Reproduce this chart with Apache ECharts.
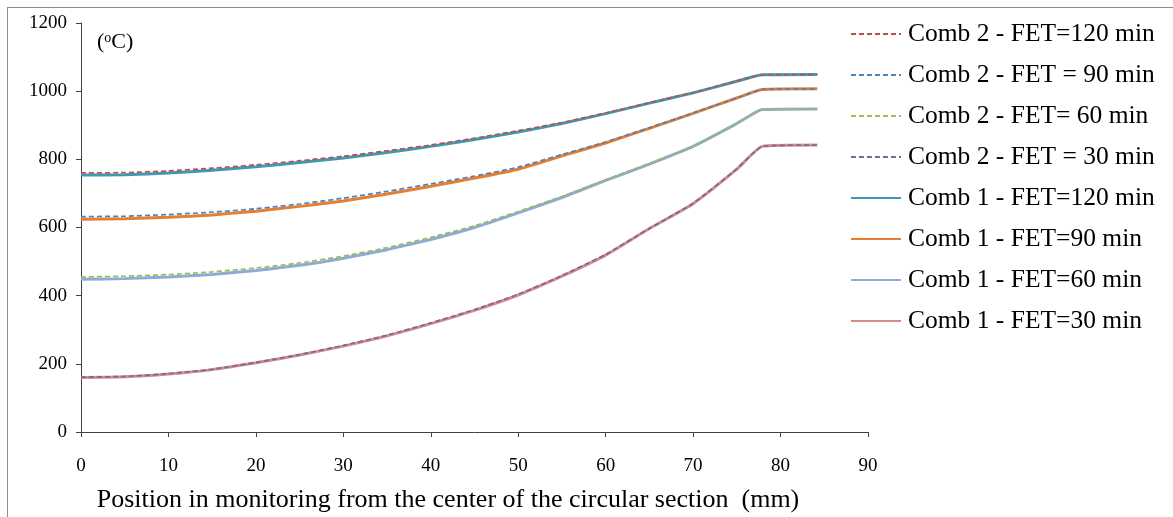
<!DOCTYPE html>
<html>
<head>
<meta charset="utf-8">
<script src="https://cdn.jsdelivr.net/npm/echarts@6/dist/echarts.min.js"></script>
<style>
html,body{margin:0;padding:0;background:#fff;}
#frame{position:absolute;left:7px;top:7px;width:1166px;height:510px;border-top:1px solid #8c8c8c;border-left:1px solid #8c8c8c;box-sizing:border-box;}
#chart{position:absolute;left:0;top:0;width:1173px;height:517px;}
</style>
</head>
<body>
<div id="frame"></div>
<div id="chart"></div>
<script>
// Positions (mm) from the center of the circular section
const positions = [0, 5, 10, 15, 20, 25, 30, 35, 40, 45, 50, 55, 60, 65, 70, 75, 77.9, 84.2];

// Temperatures (°C)
const comb2_120 = [760, 761, 766, 774, 784, 796, 809, 825, 842, 862, 884, 908, 936, 966, 996, 1030, 1048, 1049];
const comb2_90  = [632, 633, 638, 645, 655, 669, 686, 706, 728, 751, 777, 814, 851, 893, 936, 980, 1005, 1007];
const comb2_60  = [455, 457, 462, 470, 481, 496, 516, 541, 571, 605, 647, 691, 740, 788, 839, 905, 946, 948];
const comb2_30  = [161, 163, 171, 184, 204, 227, 254, 284, 320, 359, 404, 459, 521, 597, 671, 772, 838, 842];
const comb1_120 = [754, 755, 760, 768, 778, 791, 804, 820, 838, 858, 880, 905, 934, 965, 995, 1029, 1048, 1049];
const comb1_90  = [624, 626, 630, 637, 648, 662, 678, 698, 721, 745, 771, 810, 848, 891, 935, 980, 1005, 1007];
const comb1_60  = [448, 450, 455, 462, 474, 489, 510, 535, 565, 600, 643, 688, 738, 786, 838, 905, 946, 948];
const comb1_30  = [160, 162, 170, 183, 203, 226, 252, 282, 318, 357, 402, 457, 519, 597, 670, 771, 838, 842];

const seriesNames = [
  'Comb 2 - FET=120 min', 'Comb 2 - FET = 90 min', 'Comb 2 - FET= 60 min', 'Comb 2 - FET = 30 min',
  'Comb 1 - FET=120 min', 'Comb 1 - FET=90 min', 'Comb 1 - FET=60 min', 'Comb 1 - FET=30 min'
];
const seriesValues = [comb2_120, comb2_90, comb2_60, comb2_30, comb1_120, comb1_90, comb1_60, comb1_30];
const seriesColors = ['#C0504D', '#4F81BD', '#9BBB59', '#8064A2', '#3A9BB2', '#E67E2E', '#8EAAD6', '#D48C8B'];
const dashed = [true, true, true, true, false, false, false, false];

const xTitle = 'Position in monitoring from the center of the circular section  (mm)';
const font = '"Liberation Serif", "Times New Roman", serif';

const series = seriesNames.map((name, i) => ({
  name: name,
  type: 'line',
  data: positions.map((x, j) => [x, seriesValues[i][j]]),
  symbol: 'none',
  smooth: 0.15,
  z: dashed[i] ? 4 : 2,
  lineStyle: dashed[i]
    ? { color: seriesColors[i], width: 1.7, type: [5, 3] }
    : { color: seriesColors[i], width: 3 },
  itemStyle: { color: seriesColors[i] }
}));

const chart = echarts.init(document.getElementById('chart'));
chart.setOption({
  animation: false,
  backgroundColor: 'transparent',
  grid: { left: 81, right: 305, top: 23, bottom: 85, containLabel: false, outerBoundsMode: 'none' },
  xAxis: {
    type: 'value', min: 0, max: 90, interval: 10,
    axisLine: { show: true, lineStyle: { color: '#404040', width: 1 } },
    axisTick: { show: true, inside: false, length: 5, lineStyle: { color: '#404040' } },
    axisLabel: { fontFamily: font, fontSize: 19, color: '#000', margin: 25 },
    splitLine: { show: false }
  },
  yAxis: {
    type: 'value', min: 0, max: 1200, interval: 200,
    axisLine: { show: true, lineStyle: { color: '#404040', width: 1 } },
    axisTick: { show: true, inside: false, length: 5, lineStyle: { color: '#404040' } },
    axisLabel: { fontFamily: font, fontSize: 19, color: '#000', margin: 14, formatter: v => String(v) },
    splitLine: { show: false }
  },
  legend: {
    orient: 'vertical', left: 850, top: 21, padding: 0,
    itemWidth: 50, itemHeight: 12, itemGap: 15,
    itemStyle: { opacity: 0 },
    textStyle: { fontFamily: font, fontSize: 25.5, color: '#000', padding: [0, 0, 0, 2] },
    data: seriesNames
  },
  graphic: [{
    type: 'text', left: 97, top: 31,
    style: {
      text: '({s|o}C)',
      fontFamily: font, fontSize: 22, fill: '#000',
      rich: { s: { fontFamily: font, fontSize: 14, verticalAlign: 'top', padding: [0, 0, 9, 0] } }
    }
  }, {
    type: 'text', x: 448, y: 500,
    style: {
      text: xTitle, fontFamily: font, fontSize: 26, fill: '#000',
      align: 'center', verticalAlign: 'middle'
    }
  }],
  series: series
});
</script>
</body>
</html>
